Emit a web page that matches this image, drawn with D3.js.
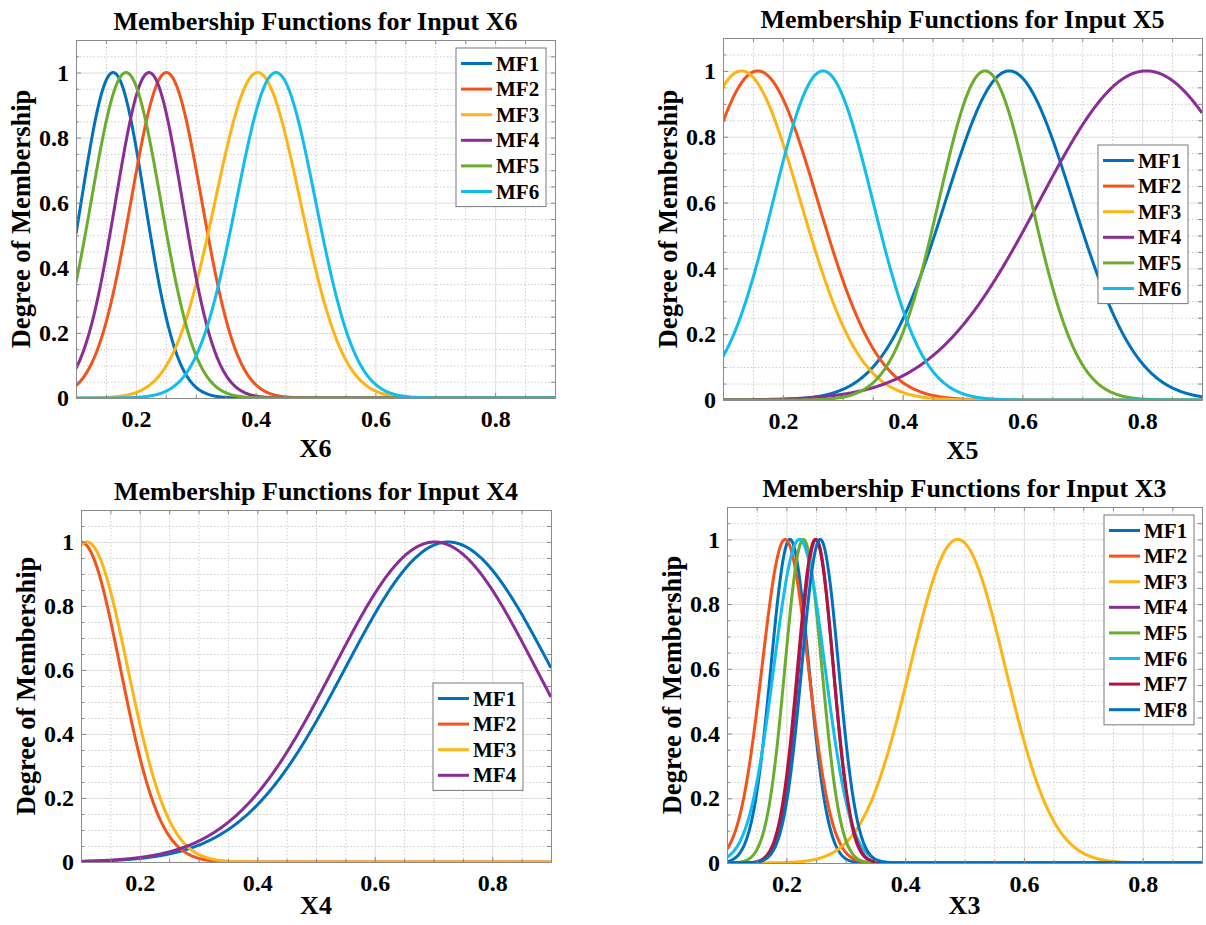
<!DOCTYPE html>
<html lang="en">
<head>
<meta charset="UTF-8">
<script src="https://d3js.org/d3.v7.min.js"></script>
<style>
    body { margin: 0; background: #fff; }
    svg { display: block; }
    .grid-major line { stroke: #dedede; stroke-width: 1; }
    .grid-minor line { stroke: #cdcdcd; stroke-width: 1; stroke-dasharray: 1.5, 2; }
    .axis path, .axis line { stroke: #8a8a8a; }
    .axis text { fill: #000; font-size: 24px; font-family: "Liberation Serif", "Times New Roman", serif; font-weight: bold; }
    .lbl { fill: #000; font-family: "Liberation Serif", "Times New Roman", serif; font-weight: bold; }
</style>
<title>Membership Functions</title>
</head>
<body>
<script>
    // ---- data (gaussian MF centre / sigma per input) ----
    var xDomain = [0.1, 0.9];
    var yDomain = [0, 1.1];
    var xTicks = [0.2, 0.4, 0.6, 0.8];
    var yTicks = [0, 0.2, 0.4, 0.6, 0.8, 1];
    var mfNames = ["MF1", "MF2", "MF3", "MF4", "MF5", "MF6", "MF7", "MF8"];
    var mfColors = ["#0072bd", "#f2541b", "#fdb414", "#8a2d95", "#6bad2c", "#10bdec", "#b3123a", "#0072bd"];

    var x6Centers = [0.162, 0.251, 0.4035, 0.222, 0.1835, 0.434];
    var x6Sigmas = [0.053, 0.059, 0.071, 0.0557, 0.058, 0.066];

    var x5Centers = [0.578, 0.158, 0.131, 0.807, 0.5376, 0.267];
    var x5Sigmas = [0.106, 0.100, 0.098, 0.178, 0.077, 0.083];

    var x4Centers = [0.725, 0.100, 0.110, 0.702];
    var x4Sigmas = [0.175, 0.067, 0.0695, 0.172];

    var x3Centers = [0.206, 0.198, 0.4885, 0.250, 0.2286, 0.222, 0.249, 0.257];
    var x3Sigmas = [0.032, 0.039, 0.080, 0.029, 0.031, 0.043, 0.030, 0.031];

    // layout of the four axes (pixels)
    var panels = [
        { name: "X6", centers: x6Centers, sigmas: x6Sigmas, l: 76, r: 555, t: 40, b: 398, legX: 456, legY: 48 },
        { name: "X5", centers: x5Centers, sigmas: x5Sigmas, l: 723, r: 1202, t: 38, b: 400, legX: 1098, legY: 145 },
        { name: "X4", centers: x4Centers, sigmas: x4Sigmas, l: 81, r: 551, t: 510, b: 862, legX: 433, legY: 683 },
        { name: "X3", centers: x3Centers, sigmas: x3Sigmas, l: 727, r: 1202, t: 507, b: 863, legX: 1104, legY: 515 }
    ];

    var svg = d3.select("body").append("svg")
        .attr("width", 1206)
        .attr("height", 925);

    function gaussmf(x, c, s) {
        return Math.exp(-((x - c) * (x - c)) / (2 * s * s));
    }

    var samples = d3.range(0, 801).map(function (i) { return xDomain[0] + i * (xDomain[1] - xDomain[0]) / 800; });
    var minorX = d3.range(0, 17).map(function (i) { return +(0.1 + i * 0.05).toFixed(2); })
        .filter(function (v) { return xTicks.indexOf(v) < 0; });
    var minorY = d3.range(0, 23).map(function (i) { return +(i * 0.05).toFixed(2); })
        .filter(function (v) { return yTicks.indexOf(v) < 0; });

    panels.forEach(function (p, pi) {
        var x = d3.scaleLinear().domain(xDomain).range([p.l, p.r]);
        var y = d3.scaleLinear().domain(yDomain).range([p.b, p.t]);
        var w = p.r - p.l, h = p.b - p.t;
        var g = svg.append("g");

        // grid
        g.append("g").attr("class", "grid-minor")
            .attr("transform", "translate(0," + p.b + ")")
            .call(d3.axisBottom(x).tickValues(minorX).tickSize(-h).tickFormat(""))
            .call(function (s) { s.select(".domain").remove(); });
        g.append("g").attr("class", "grid-minor")
            .attr("transform", "translate(" + p.l + ",0)")
            .call(d3.axisLeft(y).tickValues(minorY).tickSize(-w).tickFormat(""))
            .call(function (s) { s.select(".domain").remove(); });
        g.append("g").attr("class", "grid-major")
            .attr("transform", "translate(0," + p.b + ")")
            .call(d3.axisBottom(x).tickValues(xTicks).tickSize(-h).tickFormat(""))
            .call(function (s) { s.select(".domain").remove(); });
        g.append("g").attr("class", "grid-major")
            .attr("transform", "translate(" + p.l + ",0)")
            .call(d3.axisLeft(y).tickValues(yTicks).tickSize(-w).tickFormat(""))
            .call(function (s) { s.select(".domain").remove(); });

        // curves
        var clipId = "clip" + pi;
        g.append("clipPath").attr("id", clipId)
            .append("rect").attr("x", p.l).attr("y", p.t).attr("width", w).attr("height", h);

        var line = d3.line()
            .x(function (d) { return x(d[0]); })
            .y(function (d) { return y(d[1]); });

        var series = p.centers.map(function (c, i) {
            return samples.map(function (v) { return [v, gaussmf(v, c, p.sigmas[i])]; });
        });

        g.append("g").attr("clip-path", "url(#" + clipId + ")")
            .selectAll("path")
            .data(series)
            .enter().append("path")
            .attr("d", line)
            .attr("fill", "none")
            .attr("stroke", function (d, i) { return mfColors[i]; })
            .attr("stroke-width", 3)
            .attr("stroke-linejoin", "round");

        // axes (ticks point inward, box on)
        g.append("g").attr("class", "axis")
            .attr("transform", "translate(0," + p.b + ")")
            .call(d3.axisBottom(x).tickValues(minorX).tickSizeInner(-3).tickSizeOuter(0).tickFormat(""));
        g.append("g").attr("class", "axis")
            .attr("transform", "translate(0," + p.b + ")")
            .call(d3.axisBottom(x).tickValues(xTicks).tickSizeInner(-5).tickSizeOuter(0).tickPadding(12)
                .tickFormat(function (d) { return String(d); }));
        g.append("g").attr("class", "axis")
            .attr("transform", "translate(0," + p.t + ")")
            .call(d3.axisTop(x).tickValues(xTicks.concat(minorX)).tickSizeInner(-4).tickSizeOuter(0).tickFormat(""));
        g.append("g").attr("class", "axis")
            .attr("transform", "translate(" + p.l + ",0)")
            .call(d3.axisLeft(y).tickValues(minorY).tickSizeInner(-3).tickSizeOuter(0).tickFormat(""));
        g.append("g").attr("class", "axis")
            .attr("transform", "translate(" + p.l + ",0)")
            .call(d3.axisLeft(y).tickValues(yTicks).tickSizeInner(-5).tickSizeOuter(0).tickPadding(7)
                .tickFormat(function (d) { return String(d); }));
        g.append("g").attr("class", "axis")
            .attr("transform", "translate(" + p.r + ",0)")
            .call(d3.axisRight(y).tickValues(yTicks.concat(minorY)).tickSizeInner(-4).tickSizeOuter(0).tickFormat(""));

        // labels
        g.append("text").attr("class", "lbl")
            .attr("x", (p.l + p.r) / 2).attr("y", p.t - 10)
            .attr("text-anchor", "middle").attr("font-size", 26)
            .text("Membership Functions for Input " + p.name);
        g.append("text").attr("class", "lbl")
            .attr("x", (p.l + p.r) / 2).attr("y", Math.min(p.b + 59, 914))
            .attr("text-anchor", "middle").attr("font-size", 26)
            .text(p.name);
        g.append("text").attr("class", "lbl")
            .attr("transform", "translate(" + (p.l - 46) + "," + ((p.t + p.b) / 2) + ") rotate(-90)")
            .attr("text-anchor", "middle").attr("font-size", 26.5)
            .text("Degree of Membership");

        // legend
        var n = p.centers.length;
        var leg = g.append("g").attr("transform", "translate(" + p.legX + "," + p.legY + ")");
        leg.append("rect")
            .attr("width", 90).attr("height", n * 25.6 + 5)
            .attr("fill", "#fff").attr("stroke", "#7a7a7a").attr("stroke-width", 1);
        var items = leg.selectAll("g.item")
            .data(p.centers.map(function (c, i) { return i; }))
            .enter().append("g").attr("class", "item")
            .attr("transform", function (i) { return "translate(0," + (15.5 + i * 25.6) + ")"; });
        items.append("line")
            .attr("x1", 5).attr("x2", 36)
            .attr("stroke", function (i) { return mfColors[i]; })
            .attr("stroke-width", 3);
        items.append("text").attr("class", "lbl")
            .attr("x", 40).attr("y", 7)
            .attr("font-size", 21)
            .text(function (i) { return mfNames[i]; });
    });
</script>
</body>
</html>
